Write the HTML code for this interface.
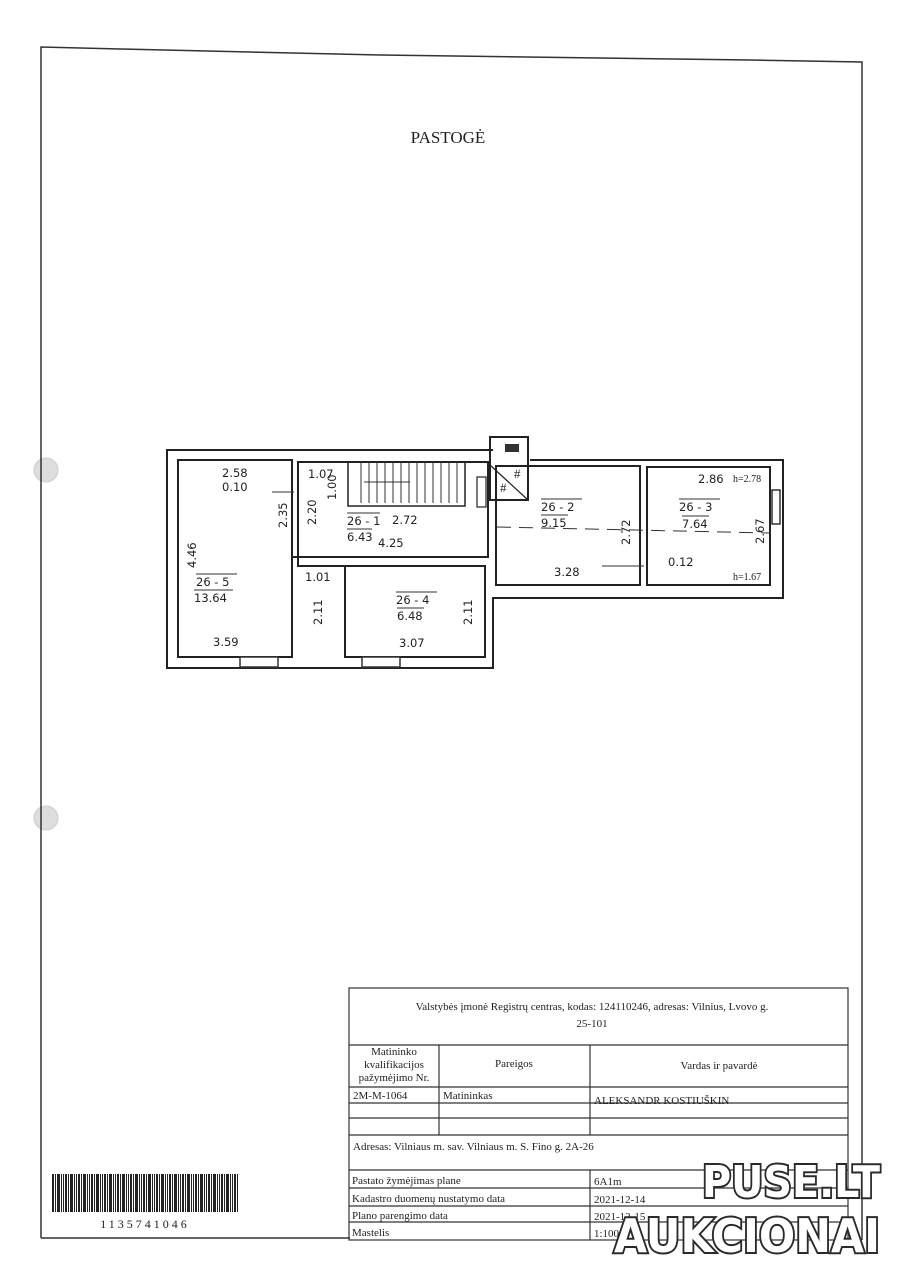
<!DOCTYPE html>
<html><head><meta charset="utf-8"><style>
body{margin:0;background:#fff;}
svg{display:block}
text{font-family:"Liberation Serif",serif;fill:#222}
.s{font-family:"DejaVu Sans","Liberation Sans",sans-serif;font-size:11.5px}
.w{font-family:"DejaVu Sans","Liberation Sans",sans-serif;font-weight:bold;fill:#fff;stroke:#2a2a2a;stroke-width:4;paint-order:stroke}
</style></head><body>
<svg width="912" height="1280" viewBox="0 0 912 1280" xmlns="http://www.w3.org/2000/svg">
<rect width="912" height="1280" fill="#fff"/>
<circle cx="46" cy="470" r="12" fill="#ddd" stroke="#ccc"/>
<circle cx="46" cy="818" r="12" fill="#ddd" stroke="#ccc"/>
<polyline points="41,1238 41,47 120,49 380,55 750,60 862,62 862,1240" fill="none" stroke="#333" stroke-width="1.5"/>
<line x1="41" y1="1238" x2="350" y2="1238" stroke="#333" stroke-width="1.5"/>
<text x="448" y="143" font-size="17" text-anchor="middle">PASTOGĖ</text>

<g fill="none" stroke="#222" stroke-width="2">
<polyline points="493,450 167,450 167,668 493,668 493,598 783,598 783,460 530,460"/>
<rect x="178" y="460" width="114" height="197"/>
<rect x="298" y="462" width="190" height="95"/>
<polyline points="292,557 298,557 298,566 345,566 345,657 485,657 485,566 345,566"/>
<rect x="496" y="466" width="144" height="119"/>
<rect x="647" y="467" width="123" height="118"/>
<rect x="490" y="437" width="38" height="63"/>
<line x1="490" y1="465" x2="528" y2="500" stroke-width="1.2"/>
<rect x="348" y="462" width="117" height="44" stroke-width="1.5"/>
<rect x="477" y="477" width="9" height="30" stroke-width="1.2"/>
</g>
<g stroke="#333" stroke-width="1">
<line x1="361" y1="462" x2="361" y2="503"/><line x1="369" y1="462" x2="369" y2="503"/><line x1="377" y1="462" x2="377" y2="503"/><line x1="385" y1="462" x2="385" y2="503"/><line x1="393" y1="462" x2="393" y2="503"/><line x1="401" y1="462" x2="401" y2="503"/><line x1="409" y1="462" x2="409" y2="503"/><line x1="417" y1="462" x2="417" y2="503"/><line x1="425" y1="462" x2="425" y2="503"/><line x1="433" y1="462" x2="433" y2="503"/><line x1="441" y1="462" x2="441" y2="503"/><line x1="449" y1="462" x2="449" y2="503"/><line x1="457" y1="462" x2="457" y2="503"/>
<line x1="364" y1="482" x2="410" y2="482"/>
<line x1="497" y1="527" x2="770" y2="533" stroke-dasharray="14,8"/>
<line x1="272" y1="492" x2="294" y2="492"/>
<line x1="602" y1="566" x2="644" y2="566"/>
</g>
<rect x="505" y="444" width="14" height="8" fill="#333"/>
<g fill="#333" stroke="#333" stroke-width="1.5">
<rect x="240" y="657" width="38" height="10" fill="#fff"/>
<rect x="362" y="657" width="38" height="10" fill="#fff"/>
<rect x="772" y="490" width="8" height="34" fill="#fff"/>
</g>
<text x="500" y="492" font-size="13">#</text><text x="514" y="478" font-size="13">#</text>
<g>
<text x="222" y="477" class="s">2.58</text>
<text x="222" y="491" class="s">0.10</text>
<text x="308" y="478" class="s">1.07</text>
<text x="347" y="525" class="s">26 - 1</text>
<text x="392" y="524" class="s">2.72</text>
<text x="347" y="541" class="s">6.43</text>
<text x="378" y="547" class="s">4.25</text>
<text x="196" y="586" class="s">26 - 5</text>
<text x="194" y="602" class="s">13.64</text>
<text x="305" y="581" class="s">1.01</text>
<text x="213" y="646" class="s">3.59</text>
<text x="396" y="604" class="s">26 - 4</text>
<text x="397" y="620" class="s">6.48</text>
<text x="399" y="647" class="s">3.07</text>
<text x="541" y="511" class="s">26 - 2</text>
<text x="541" y="527" class="s">9.15</text>
<text x="554" y="576" class="s">3.28</text>
<text x="698" y="483" class="s">2.86</text>
<text x="733" y="482" font-size="10">h=2.78</text>
<text x="679" y="511" class="s">26 - 3</text>
<text x="682" y="528" class="s">7.64</text>
<text x="668" y="566" class="s">0.12</text>
<text x="733" y="580" font-size="10">h=1.67</text>
</g>
<g>
<text transform="translate(196,568) rotate(-90)" class="s">4.46</text>
<text transform="translate(287,528) rotate(-90)" class="s">2.35</text>
<text transform="translate(316,525) rotate(-90)" class="s">2.20</text>
<text transform="translate(336,500) rotate(-90)" class="s">1.00</text>
<text transform="translate(322,625) rotate(-90)" class="s">2.11</text>
<text transform="translate(472,625) rotate(-90)" class="s">2.11</text>
<text transform="translate(630,545) rotate(-90)" class="s">2.72</text>
<text transform="translate(764,544) rotate(-90)" class="s">2.67</text>
</g>
<line x1="347" y1="513" x2="380" y2="513" stroke="#333"/><line x1="347" y1="529" x2="372" y2="529" stroke="#333"/>
<line x1="196" y1="574" x2="237" y2="574" stroke="#333"/><line x1="194" y1="590" x2="233" y2="590" stroke="#333"/>
<line x1="396" y1="592" x2="437" y2="592" stroke="#333"/><line x1="397" y1="608" x2="424" y2="608" stroke="#333"/>
<line x1="541" y1="499" x2="582" y2="499" stroke="#333"/><line x1="541" y1="515" x2="568" y2="515" stroke="#333"/>
<line x1="679" y1="499" x2="720" y2="499" stroke="#333"/><line x1="682" y1="516" x2="709" y2="516" stroke="#333"/>

<g stroke="#333" stroke-width="1.2" fill="none">
<rect x="349" y="988" width="499" height="252"/>
<line x1="349" y1="1045" x2="848" y2="1045"/>
<line x1="349" y1="1087" x2="848" y2="1087"/>
<line x1="349" y1="1103" x2="848" y2="1103"/>
<line x1="349" y1="1118" x2="848" y2="1118"/>
<line x1="349" y1="1135" x2="848" y2="1135"/>
<line x1="349" y1="1170" x2="848" y2="1170"/>
<line x1="349" y1="1188" x2="848" y2="1188"/>
<line x1="349" y1="1206" x2="848" y2="1206"/>
<line x1="349" y1="1222" x2="848" y2="1222"/>
<line x1="439" y1="1045" x2="439" y2="1135"/>
<line x1="590" y1="1045" x2="590" y2="1135"/>
<line x1="590" y1="1170" x2="590" y2="1240"/>
</g>
<g font-size="11">
<text x="592" y="1010" text-anchor="middle">Valstybės įmonė Registrų centras, kodas: 124110246, adresas: Vilnius, Lvovo g.</text>
<text x="592" y="1027" text-anchor="middle">25-101</text>
<text x="394" y="1055" text-anchor="middle">Matininko</text>
<text x="394" y="1068" text-anchor="middle">kvalifikacijos</text>
<text x="394" y="1081" text-anchor="middle">pažymėjimo Nr.</text>
<text x="514" y="1067" text-anchor="middle">Pareigos</text>
<text x="719" y="1069" text-anchor="middle">Vardas ir pavardė</text>
<text x="353" y="1099">2M-M-1064</text>
<text x="443" y="1099">Matininkas</text>
<text x="594" y="1104">ALEKSANDR KOSTIUŠKIN</text>
<text x="353" y="1150">Adresas: Vilniaus m. sav. Vilniaus m. S. Fino g. 2A-26</text>
<text x="352" y="1184">Pastato žymėjimas plane</text>
<text x="352" y="1202">Kadastro duomenų nustatymo data</text>
<text x="352" y="1219">Plano parengimo data</text>
<text x="352" y="1236">Mastelis</text>
<text x="594" y="1185">6A1m</text>
<text x="594" y="1203">2021-12-14</text>
<text x="594" y="1220">2021-12-15</text>
<text x="594" y="1237">1:100</text>
</g>
<defs><pattern id="bc" width="13" height="38" patternUnits="userSpaceOnUse">
<rect x="0" width="2" height="38" fill="#222"/><rect x="3" width="1" height="38" fill="#222"/><rect x="5" width="3" height="38" fill="#222"/><rect x="9" width="1" height="38" fill="#222"/><rect x="11" width="1" height="38" fill="#222"/>
</pattern></defs>
<rect x="51" y="1174" width="188" height="38" fill="url(#bc)"/>
<text x="145" y="1228" font-size="12" text-anchor="middle" letter-spacing="3" font-family="Liberation Sans,sans-serif">1135741046</text>
<text x="880" y="1197" class="w" font-size="44" text-anchor="end" textLength="178" lengthAdjust="spacingAndGlyphs">PUSE.LT</text>
<text x="880" y="1252" class="w" font-size="46" text-anchor="end" textLength="266" lengthAdjust="spacingAndGlyphs">AUKCIONAI</text>
</svg>
</body></html>
